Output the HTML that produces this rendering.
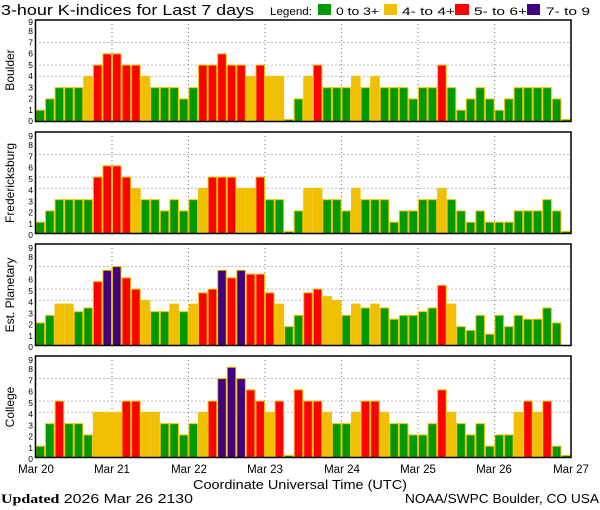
<!DOCTYPE html>
<html><head><meta charset="utf-8"><style>
html,body{margin:0;padding:0;background:#fff;}
svg{display:block;font-family:"Liberation Sans",sans-serif;}
</style></head><body>
<svg id="s" width="600" height="510" viewBox="0 0 600 510" xmlns="http://www.w3.org/2000/svg">
<rect width="600" height="510" fill="#fff"/>
<text x="1" y="15" font-size="15" fill="#000" textLength="253" lengthAdjust="spacingAndGlyphs">3-hour K-indices for Last 7 days</text>
<text x="270" y="15" font-size="11" fill="#000" textLength="42" lengthAdjust="spacingAndGlyphs">Legend:</text>
<rect x="318" y="4" width="13" height="11" fill="#009900"/>
<text x="336" y="15" font-size="11" textLength="43" lengthAdjust="spacingAndGlyphs">0 to 3+</text>
<rect x="384" y="4" width="13" height="11" fill="#f0c000"/>
<text x="402" y="15" font-size="11" textLength="53" lengthAdjust="spacingAndGlyphs">4- to 4+</text>
<rect x="455" y="4" width="14" height="11" fill="#ff0000"/>
<text x="474" y="15" font-size="11" textLength="53" lengthAdjust="spacingAndGlyphs">5- to 6+</text>
<rect x="527" y="4" width="13" height="11" fill="#400080"/>
<text x="546" y="15" font-size="11" textLength="44" lengthAdjust="spacingAndGlyphs">7- to 9</text>
<g id="bars"></g>
<g font-size="12" fill="#000">
<text transform="translate(14,70) rotate(-90)" text-anchor="middle">Boulder</text>
<text transform="translate(14,183) rotate(-90)" text-anchor="middle">Fredericksburg</text>
<text transform="translate(14,295) rotate(-90)" text-anchor="middle">Est. Planetary</text>
<text transform="translate(14,407) rotate(-90)" text-anchor="middle">College</text>
</g>
<g font-size="8.5" text-anchor="end" fill="#000">
<g transform="translate(33,124)"><text y="0">0</text><text y="-11.2">1</text><text y="-22.4">2</text><text y="-33.7">3</text><text y="-44.9">4</text><text y="-56.1">5</text><text y="-67.3">6</text><text y="-78.6">7</text><text y="-89.8">8</text><text y="-99">9</text></g>
<g transform="translate(33,238)"><text y="0">0</text><text y="-11.2">1</text><text y="-22.4">2</text><text y="-33.7">3</text><text y="-44.9">4</text><text y="-56.1">5</text><text y="-67.3">6</text><text y="-78.6">7</text><text y="-89.8">8</text><text y="-99">9</text></g>
<g transform="translate(33,350)"><text y="0">0</text><text y="-11.2">1</text><text y="-22.4">2</text><text y="-33.7">3</text><text y="-44.9">4</text><text y="-56.1">5</text><text y="-67.3">6</text><text y="-78.6">7</text><text y="-89.8">8</text><text y="-99">9</text></g>
<g transform="translate(33,462)"><text y="0">0</text><text y="-11.2">1</text><text y="-22.4">2</text><text y="-33.7">3</text><text y="-44.9">4</text><text y="-56.1">5</text><text y="-67.3">6</text><text y="-78.6">7</text><text y="-89.8">8</text><text y="-99">9</text></g>
</g>
<g font-size="11.5" text-anchor="middle" fill="#000">
<text x="36" y="473">Mar 20</text>
<text x="112" y="473">Mar 21</text>
<text x="189" y="473">Mar 22</text>
<text x="265" y="473">Mar 23</text>
<text x="342" y="473">Mar 24</text>
<text x="418" y="473">Mar 25</text>
<text x="494" y="473">Mar 26</text>
<text x="571" y="473">Mar 27</text>
</g>
<text x="193" y="489" font-size="13" textLength="214" lengthAdjust="spacingAndGlyphs">Coordinate Universal Time (UTC)</text>
<text x="1" y="503" font-size="13" textLength="192" lengthAdjust="spacingAndGlyphs"><tspan font-family="Liberation Serif" font-weight="bold">Updated</tspan> 2026 Mar 26 2130</text>
<text x="405" y="503" font-size="13" textLength="194" lengthAdjust="spacingAndGlyphs">NOAA/SWPC Boulder, CO USA</text>
</svg>
<script>
var data=[
[1,2,3,3,3,4,5,6, 6,5,5,4,3,3,3,2, 3,5,5,6,5,5,4,5, 4,4,0,2,4,5,3,3, 3,4,3,4,3,3,3,2, 3,3,5,3,1,2,3,2, 1,2,3,3,3,3,2,0],
[1,2,3,3,3,3,5,6, 6,5,4,3,3,2,3,2, 3,4,5,5,5,4,4,5, 3,3,0,2,4,4,3,3, 2,4,3,3,3,1,2,2, 3,3,4,3,2,1,2,1, 1,1,2,2,2,3,2,0],
[2,2.67,3.67,3.67,3,3.33,5.67,6.67, 7,6,5,4,3,3,3.67,3, 3.67,4.67,5,6.67,6,6.67,6.33,6.33, 4.67,3.67,1.67,2.67,4.67,5,4.33,4, 2.67,3.67,3.33,3.67,3.33,2.33,2.67,2.67, 3,3.33,5.33,3.67,1.67,1.33,2.67,1, 2.67,1.67,2.67,2.33,2.33,3.33,2,-1],
[1,3,5,3,3,2,4,4, 4,5,5,4,4,3,3,2, 3,4,5,7,8,7,6,5, 4,5,0,6,5,5,4,3, 3,4,5,5,4,3,3,2, 2,3,6,4,3,2,3,1, 2,2,4,5,4,5,1,0]];
var tops=[20,132,244,356],H=101.5,L=35.5,R=571,W=(R-L)/56;
var h='';
function col(v){return v>=6.5?'#400080':v>=4.5?'#ff0000':v>=3.5?'#f0c000':'#009900';}
for(var p=0;p<4;p++){
 var t=tops[p],b=t+H,u=H/9;
 h+='<rect x="'+L+'" y="'+t+'" width="'+(R-L)+'" height="'+H+'" fill="#fff"/>';
 [4,5,7].forEach(function(k){var y=b-k*u;h+='<line x1="'+L+'" x2="'+R+'" y1="'+y+'" y2="'+y+'" stroke="#777" stroke-dasharray="1,3"/>';});
 for(var d=1;d<7;d++){var x=L+d*8*W;h+='<line x1="'+x+'" x2="'+x+'" y1="'+t+'" y2="'+b+'" stroke="#777" stroke-dasharray="1,3"/>';}
 for(var i=0;i<56;i++){
  var v=data[p][i];if(v<0)continue;
  var hh=v==0?2:v*u;var x=L+i*W;
  h+='<rect x="'+(x+0.5)+'" y="'+(b-hh)+'" width="'+(W-1)+'" height="'+hh+'" fill="'+col(v)+'" stroke="#f0c000" stroke-width="1"/>';
 }
 h+='<rect x="'+L+'" y="'+t+'" width="'+(R-L)+'" height="'+H+'" fill="none" stroke="#000" stroke-width="1.5"/>';
}
document.getElementById('bars').innerHTML=h;
</script>
</body></html>
